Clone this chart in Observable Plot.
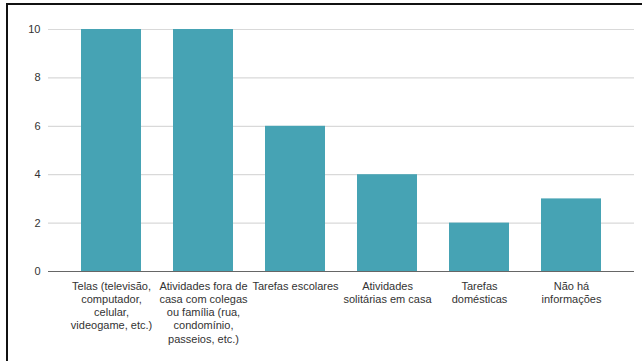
<!DOCTYPE html>
<html>
<head>
<meta charset="utf-8">
<script src="https://cdn.jsdelivr.net/npm/d3@7"></script>
<script src="https://cdn.jsdelivr.net/npm/@observablehq/plot@0.6"></script>
<style>
  html, body { margin: 0; padding: 0; background: #fff; }
  #wrap { position: relative; width: 642px; height: 361px; overflow: hidden; }
  #frame { position: absolute; left: 6px; top: 3px; right: -10px; bottom: -10px;
           border-left: 2px solid #111; border-top: 2px solid #111; pointer-events: none; }
  svg { font-family: Arial, "Liberation Sans", Helvetica, sans-serif; }
</style>
</head>
<body>
<div id="wrap"><div id="frame"></div></div>
<script>
const categories = [
  "Telas (televisão, computador, celular, videogame, etc.)",
  "Atividades fora de casa com colegas ou família (rua, condomínio, passeios, etc.)",
  "Tarefas escolares",
  "Atividades solitárias em casa",
  "Tarefas domésticas",
  "Não há informações"
];
const values = [10, 10, 6, 4, 2, 3];
const tickLabels = [
  "Telas (televisão,\ncomputador,\ncelular,\nvideogame, etc.)",
  "Atividades fora de\ncasa com colegas\nou família (rua,\ncondomínio,\npasseios, etc.)",
  "Tarefas escolares",
  "Atividades\nsolitárias em casa",
  "Tarefas\ndomésticas",
  "Não há\ninformações"
];
const yTicks = [0, 2, 4, 6, 8, 10];

const data = categories.map((c, i) => ({category: c, value: values[i]}));
const labelOf = new Map(categories.map((c, i) => [c, tickLabels[i]]));

const chart = Plot.plot({
  width: 642,
  height: 361,
  marginLeft: 48,
  marginRight: 8,
  marginTop: 29,
  marginBottom: 90,
  style: {fontSize: "11px", color: "#333", background: "transparent"},
  x: {domain: categories, padding: 0.35, label: null},
  y: {domain: [0, 10], label: null},
  marks: [
    Plot.gridY(yTicks, {stroke: "#d9d9d9", strokeOpacity: 1, strokeWidth: 1.2}),
    Plot.barY(data, {x: "category", y: "value", fill: "#46a3b4"}),
    Plot.ruleY([0], {stroke: "#666", strokeWidth: 1.2}),
    Plot.axisY(yTicks, {tickSize: 0, tickPadding: 8, label: null, fill: "#333", fontSize: 11}),
    Plot.axisX({tickSize: 0, tickPadding: 9, label: null, fill: "#333", fontSize: 11,
                lineHeight: 1.2, tickFormat: d => labelOf.get(d)})
  ]
});
document.getElementById("wrap").prepend(chart);
</script>
</body>
</html>
